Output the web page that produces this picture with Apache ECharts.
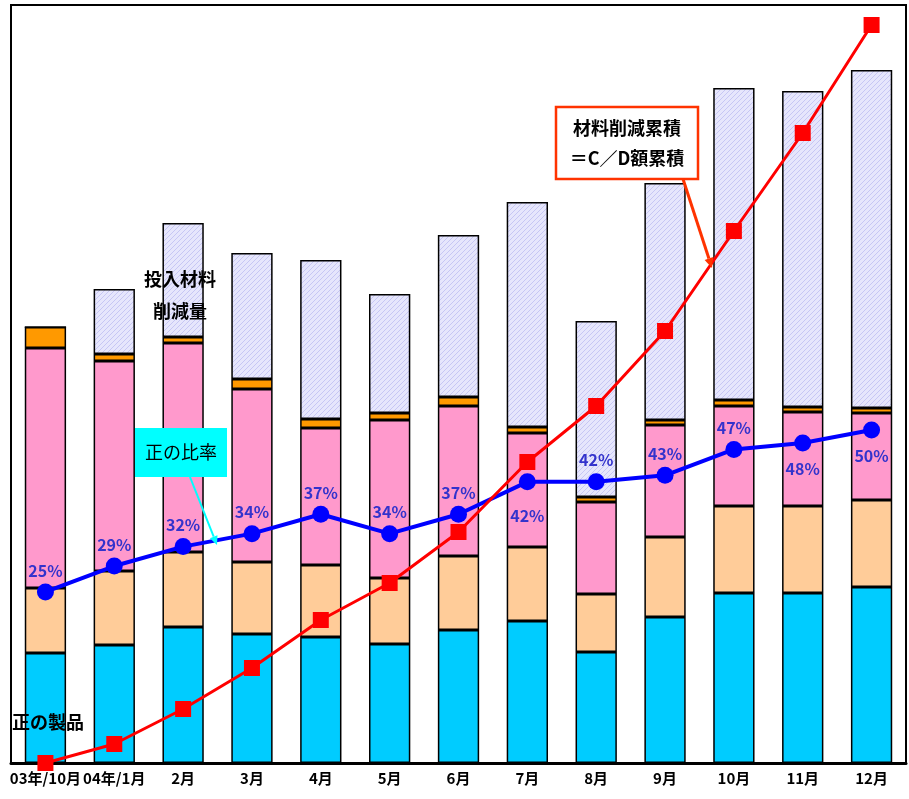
<!DOCTYPE html>
<html>
<head>
<meta charset="utf-8">
<script src="https://cdn.jsdelivr.net/npm/echarts@6/dist/echarts.min.js"></script>
<style>
html,body{margin:0;padding:0;background:#fff;}
#c{width:909px;height:799px;}
</style>
</head>
<body>
<div id="c"></div>
<script>
// ---- data ----
const categories = ['03年/10月','04年/1月','2月','3月','4月','5月','6月','7月','8月','9月','10月','11月','12月'];
// stacked components (relative units)
const seriesCyan     = [110,118,136,129,126,119,133,142,111,146,170,170,176];
const seriesPeach    = [65, 74, 75, 72, 72, 66, 74, 74, 58, 80, 87, 87, 87];
const seriesPink     = [240,210,209,173,137,158,150,114,92, 112,100,94, 87];
const seriesOrange   = [21, 7,  6,  10, 9,  7,  9,  6,  5,  5,  6,  5,  5];
const seriesLavender = [0,  65, 114,126,159,119,162,225,176,237,312,316,338];
// ratio of positive (%)
const ratioValues = [25,29,32,34,37,34,37,42,42,43,47,48,50];
const ratioBelow  = [false,false,false,false,false,false,false,true,false,false,false,true,true];
// cumulative material reduction (relative units)
const cumulValues = [0,19,54,95,143,180,231,301,357,432,532,630,738];

// ---- pattern for lavender ----
const pc = document.createElement('canvas');
pc.width = 5; pc.height = 5;
const px = pc.getContext('2d');
px.fillStyle = '#e6e6fc'; px.fillRect(0,0,5,5);
px.strokeStyle = '#c6c6f4'; px.lineWidth = 1;
px.beginPath();
px.moveTo(0,5); px.lineTo(5,0);
px.moveTo(-2.5,2.5); px.lineTo(2.5,-2.5);
px.moveTo(2.5,7.5); px.lineTo(7.5,2.5);
px.stroke();

const chart = echarts.init(document.getElementById('c'));
const JP = '"Noto Sans CJK JP", sans-serif';

function barSeries(name, data, color) {
  return {
    name: name, type: 'bar', stack: 'total', data: data, barWidth: '60%',
    itemStyle: { color: color, borderColor: '#000', borderWidth: 1.5 },
    emphasis: { disabled: true }, z: 2
  };
}

function arrow(x1, y1, x2, y2, color, w, head) {
  const dx = x2 - x1, dy = y2 - y1, L = Math.sqrt(dx*dx + dy*dy);
  const ux = dx / L, uy = dy / L, bx = x2 - ux*head, by = y2 - uy*head;
  const hw = head * 0.45;
  return [
    { type: 'line', z: 100, shape: { x1: x1, y1: y1, x2: bx, y2: by }, style: { stroke: color, lineWidth: w } },
    { type: 'polygon', z: 100, shape: { points: [[x2,y2],[bx - uy*hw, by + ux*hw],[bx + uy*hw, by - ux*hw]] }, style: { fill: color } }
  ];
}

const option = {
  animation: false,
  backgroundColor: '#fff',
  grid: { left: 11, right: 3, top: 5, bottom: 36, show: true, borderColor: '#000', borderWidth: 2, backgroundColor: '#fff' },
  xAxis: {
    type: 'category', data: categories,
    axisLine: { lineStyle: { color: '#000', width: 3 } },
    axisTick: { show: false },
    axisLabel: { interval: 0, color: '#000', fontWeight: 'bold', fontSize: 15, fontFamily: JP, margin: 8 }
  },
  yAxis: [
    { type: 'value', min: 0, max: 758, show: false, splitLine: { show: false } },
    { type: 'value', min: -1.4, max: 115.6, show: false, splitLine: { show: false } }
  ],
  series: [
    barSeries('正の製品', seriesCyan, '#00ccff'),
    barSeries('peach', seriesPeach, '#ffcc99'),
    barSeries('pink', seriesPink, '#ff99cc'),
    barSeries('orange', seriesOrange, '#ff9900'),
    barSeries('投入材料削減量', seriesLavender, { image: pc, repeat: 'repeat' }),
    {
      name: '正の比率', type: 'line', yAxisIndex: 1, z: 5,
      data: ratioValues.map((v, i) => ({
        value: v,
        label: ratioBelow[i] ? { position: 'bottom', distance: i === 7 ? 18 : 9 } : { position: 'top', distance: 5 }
      })),
      symbol: 'circle', symbolSize: 17,
      lineStyle: { color: '#0000ff', width: 4 },
      itemStyle: { color: '#0000ff' },
      label: { show: true, formatter: '{c}%', color: '#3333cc', fontWeight: 'bold', fontSize: 16, fontFamily: JP },
      emphasis: { disabled: true }
    },
    {
      name: '材料削減累積', type: 'line', z: 6,
      data: cumulValues,
      symbol: 'rect', symbolSize: 16,
      lineStyle: { color: '#ff0000', width: 3 },
      itemStyle: { color: '#ff0000' },
      emphasis: { disabled: true }
    }
  ],
  graphic: [
    { type: 'text', z: 100, style: { text: '投入材料\n削減量', x: 180, y: 263, textAlign: 'center', fontSize: 18, fontWeight: 'bold', fontFamily: JP, lineHeight: 32, fill: '#000' } },
    { type: 'text', z: 100, style: { text: '正の製品', x: 12, y: 713, fontSize: 18, fontWeight: 'bold', fontFamily: JP, fill: '#000' } },
    { type: 'rect', z: 99, shape: { x: 135, y: 428, width: 92, height: 49 }, style: { fill: '#00ffff' } },
    { type: 'text', z: 100, style: { text: '正の比率', x: 181, y: 452, textAlign: 'center', textVerticalAlign: 'middle', fontSize: 18, fontFamily: JP, fill: '#000' } },
    ...arrow(190, 477, 217, 545, '#00ffff', 2, 9),
    { type: 'rect', z: 99, shape: { x: 556, y: 107, width: 142, height: 72 }, style: { fill: '#fff', stroke: '#ff3300', lineWidth: 2.5 } },
    { type: 'text', z: 100, style: { text: '材料削減累積\n＝C／D額累積', x: 627, y: 143, textAlign: 'center', textVerticalAlign: 'middle', fontSize: 18, fontWeight: 'bold', fontFamily: JP, lineHeight: 30, fill: '#000' } },
    ...arrow(683, 179, 712, 268, '#ff3300', 3, 10)
  ]
};
chart.setOption(option);
</script>
</body>
</html>
